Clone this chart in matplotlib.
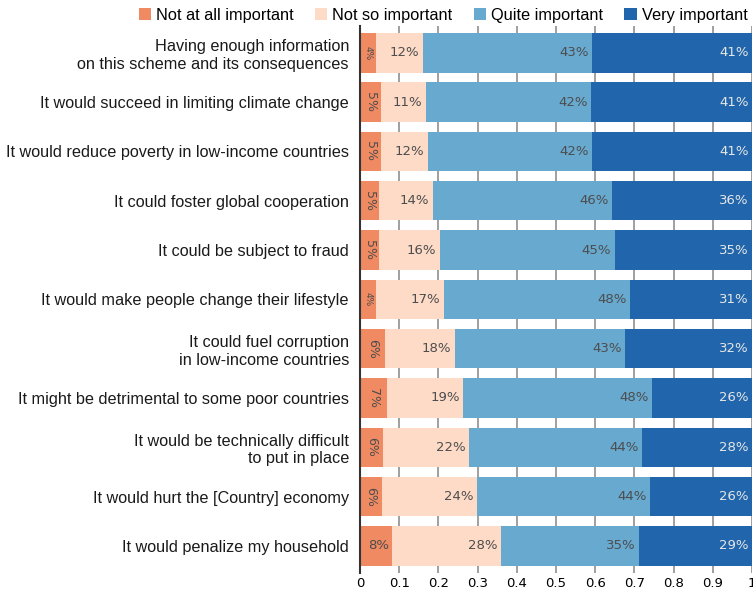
import matplotlib.pyplot as plt
import numpy as np

# Rows from top to bottom
questions = [
    'Having enough information\non this scheme and its consequences',
    'It would succeed in limiting climate change',
    'It would reduce poverty in low-income countries',
    'It could foster global cooperation',
    'It could be subject to fraud',
    'It would make people change their lifestyle',
    'It could fuel corruption\nin low-income countries',
    'It might be detrimental to some poor countries',
    'It would be technically difficult\nto put in place',
    'It would hurt the [Country] economy',
    'It would penalize my household',
]

categories = ['Not at all important', 'Not so important', 'Quite important', 'Very important']

not_at_all = [0.041, 0.054, 0.054, 0.048, 0.048, 0.041, 0.064, 0.069, 0.059, 0.056, 0.082]
not_so = [0.120, 0.114, 0.119, 0.138, 0.155, 0.173, 0.178, 0.194, 0.219, 0.242, 0.278]
quite = [0.432, 0.421, 0.419, 0.457, 0.447, 0.475, 0.434, 0.482, 0.441, 0.442, 0.352]
very = [0.407, 0.411, 0.408, 0.357, 0.350, 0.311, 0.324, 0.255, 0.281, 0.260, 0.288]

colors = ['#ef8a62', '#fddbc7', '#67a9cf', '#2166ac']
text_colors = ['#4d4d4d', '#4d4d4d', '#4d4d4d', '#e6e6e6']

fig = plt.figure(figsize=(7.53, 5.91), dpi=100)
ax = fig.add_axes([360 / 753, 0.0305, 392 / 753, 0.926])

y = np.arange(len(questions))
series = [not_at_all, not_so, quite, very]
left = np.zeros(len(questions))
handles = []
for k, vals in enumerate(series):
    vals = np.array(vals)
    bars = ax.barh(y, vals, left=left, height=0.8, color=colors[k], label=categories[k], zorder=2)
    handles.append(bars)
    for i, v in enumerate(vals):
        txt = '%d%%' % round(v * 100)
        if k == 0 and i < len(questions) - 1:
            # narrow first segment: vertical label, centred
            size = 6.5 if v < 0.045 else 9
            ax.text(left[i] + v / 2, y[i], txt, rotation=270, ha='center', va='center',
                    fontsize=size, color=text_colors[k], zorder=3)
        else:
            ax.annotate(txt, (left[i] + v, y[i]), xytext=(-2.5, 0), textcoords='offset points',
                        ha='right', va='center', fontsize=9.5, color=text_colors[k], zorder=3)
    left = left + vals

ax.set_xlim(0, 1)
ax.set_ylim(len(questions) - 0.45, -0.55)
ax.set_xticks(np.arange(0, 1.01, 0.1))
ax.set_xticklabels(['0', '0.1', '0.2', '0.3', '0.4', '0.5', '0.6', '0.7', '0.8', '0.9', '1'])
ax.set_yticks(y)
ax.set_yticklabels(questions, fontsize=11.7, family='Liberation Sans', color='#1a1a1a')
ax.tick_params(axis='both', length=0)
ax.tick_params(axis='x', labelsize=9.5, pad=3)
ax.tick_params(axis='y', pad=8)

ax.grid(axis='x', color='#999999', linewidth=1.3, zorder=0)
ax.set_axisbelow(True)
for s in ['top', 'right', 'bottom']:
    ax.spines[s].set_visible(False)
ax.spines['left'].set_color('#333333')
ax.spines['left'].set_linewidth(1.5)
ax.spines['left'].set_zorder(4)

fig.legend(handles, categories, loc='upper right', bbox_to_anchor=(1.012, 1.012), ncol=4,
           frameon=False, handlelength=0.75, handleheight=0.75, handletextpad=0.3,
           columnspacing=1.3, prop={'family': 'Liberation Sans', 'size': 11.8})

fig.savefig('out.png', dpi=100)
